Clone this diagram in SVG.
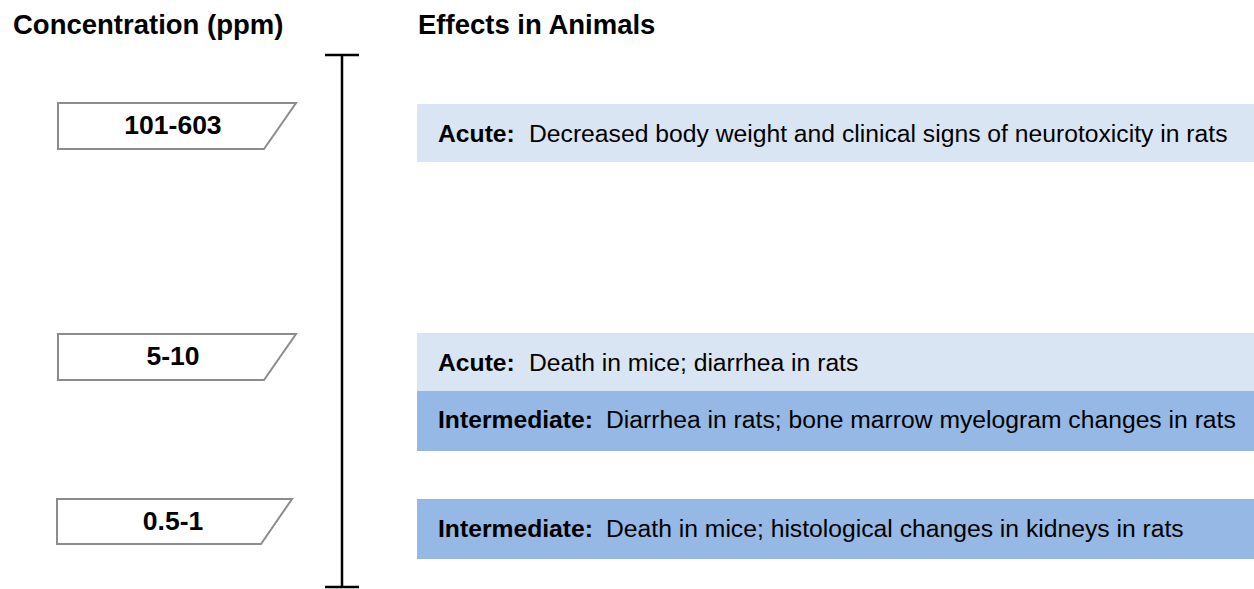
<svg xmlns="http://www.w3.org/2000/svg" width="1254" height="589" viewBox="0 0 1254 589">
<style>
text{font-family:"Liberation Sans",Arial,sans-serif;fill:#000}
.h{font-size:27.5px;font-weight:bold}
.lab{font-size:26.5px;font-weight:bold;text-anchor:middle}
.t{font-size:24.7px}
.b{font-weight:bold}
.par{fill:#fff;stroke:#8c8c8c;stroke-width:2}
.light{fill:#dae5f3}
.dark{fill:#95b8e4}
.axis{stroke:#000;stroke-width:2.5;fill:none}
</style>
<rect width="1254" height="589" fill="#fff"/>
<text class="h" x="13" y="34">Concentration (ppm)</text>
<text class="h" x="418" y="34">Effects in Animals</text>
<g id="connectors">
<path class="axis" d="M342 55V587M325 55H359M325 587H359"/>
</g>
<g id="c1"><path class="par" d="M58 103H296L264 149H58Z"/><text class="lab" x="173" y="134">101-603</text></g>
<g id="c2"><path class="par" d="M58 334H296L264 380H58Z"/><text class="lab" x="173" y="365">5-10</text></g>
<g id="c3"><path class="par" d="M57 499H292L261 544H57Z"/><text class="lab" x="173" y="530">0.5-1</text></g>
<g id="e1"><rect class="light" x="417" y="104" width="837" height="58"/><text class="t" x="438" y="142"><tspan class="b">Acute:</tspan><tspan x="529">Decreased body weight and clinical signs of neurotoxicity in rats</tspan></text></g>
<g id="e2"><rect class="light" x="417" y="333" width="837" height="58"/><text class="t" x="438" y="371"><tspan class="b">Acute:</tspan><tspan x="529">Death in mice; diarrhea in rats</tspan></text></g>
<g id="e3"><rect class="dark" x="417" y="391" width="837" height="60"/><text class="t" x="438" y="428"><tspan class="b">Intermediate:</tspan><tspan x="606">Diarrhea in rats; bone marrow myelogram changes in rats</tspan></text></g>
<g id="e4"><rect class="dark" x="417" y="499" width="837" height="60"/><text class="t" x="438" y="537"><tspan class="b">Intermediate:</tspan><tspan x="606">Death in mice; histological changes in kidneys in rats</tspan></text></g>
</svg>
